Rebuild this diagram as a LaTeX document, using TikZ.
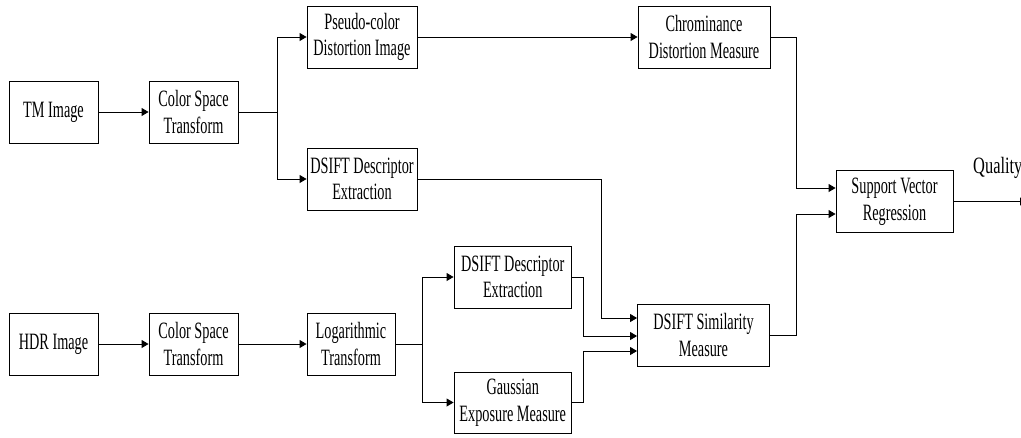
\documentclass[tikz,border=0pt]{standalone}
\usepackage{fontspec}
\setmainfont{Liberation Serif}[FakeStretch=0.61]
\usetikzlibrary{arrows.meta}
\tikzset{
  box/.style={draw=black, line width=0.9pt, fill=white, inner sep=0pt, minimum height=62pt, align=center,
    font=\fontsize{23.4}{26.7}\selectfont},
  arr/.style={draw=black, line width=0.9pt, -{Triangle[length=7pt,width=8pt]}},
  ln/.style={draw=black, line width=0.9pt},
  lbl/.style={inner sep=0pt, font=\fontsize{23.4}{26.7}\selectfont}
}
\begin{document}
\begin{tikzpicture}[x=1pt,y=-1pt]
\useasboundingbox (0,0) rectangle (1021,437);
\clip (0,0) rectangle (1021,437);
% top row
\node[box, minimum width=89pt] (tm) at (53.5,112) {TM Image};
\node[box, minimum width=89pt] (cst1) at (193.5,112) {Color Space\\Transform};
\node[box, minimum width=110pt] (pseudo) at (362,37) {Pseudo-color\\Distortion Image};
\node[box, minimum width=110pt] (dsift1) at (362,179) {DSIFT Descriptor\\Extraction};
\node[box, minimum width=132pt] (chrom) at (704,37) {Chrominance\\Distortion Measure};
\node[box, minimum width=117pt] (svr) at (894.5,201.5) {Support Vector\\Regression};
% bottom row
\node[box, minimum width=89pt] (hdr) at (53.5,344) {HDR Image};
\node[box, minimum width=89pt] (cst2) at (193.5,344) {Color Space\\Transform};
\node[box, minimum width=88pt] (log) at (351,344) {Logarithmic\\Transform};
\node[box, minimum width=117.5pt] (dsift2) at (512.75,277) {DSIFT Descriptor\\Extraction};
\node[box, minimum width=117.5pt, minimum height=61pt] (gauss) at (512.75,402.5) {Gaussian\\Exposure Measure};
\node[box, minimum width=132pt] (sim) at (703.5,335.3) {DSIFT Similarity\\Measure};
\node[lbl, anchor=base west] (q) at (973,173) {\scalebox{1.15}[1]{Quality}};
% coordinates
\coordinate (j1) at (277,112);
\coordinate (j2) at (422.6,344);
\coordinate (a1) at (796,188);
\coordinate (a2) at (601,318);
\coordinate (a3) at (583,336);
\coordinate (a4) at (583,351);
\coordinate (a5) at (796,214);
\coordinate (out) at (1027,201.5);
% connectors
\draw[arr] (tm) -- (cst1);
\draw[ln] (cst1.east) -- (j1);
\draw[arr] (j1) |- (pseudo.west);
\draw[arr] (j1) |- (dsift1.west);
\draw[arr] (pseudo) -- (chrom);
\draw[arr] (chrom.east) -| (a1) -- (a1 -| svr.west);
\draw[arr] (dsift1.east) -| (a2) -- (a2 -| sim.west);
\draw[arr] (hdr) -- (cst2);
\draw[arr] (cst2) -- (log);
\draw[ln] (log.east) -- (j2);
\draw[arr] (j2) |- (dsift2.west);
\draw[arr] (j2) |- (gauss.west);
\draw[arr] (dsift2.east) -| (a3) -- (a3 -| sim.west);
\draw[arr] (gauss.east) -| (a4) -- (a4 -| sim.west);
\draw[arr] (sim.east) -| (a5) -- (a5 -| svr.west);
\draw[arr] (svr.east) -- (out);
\end{tikzpicture}
\end{document}
